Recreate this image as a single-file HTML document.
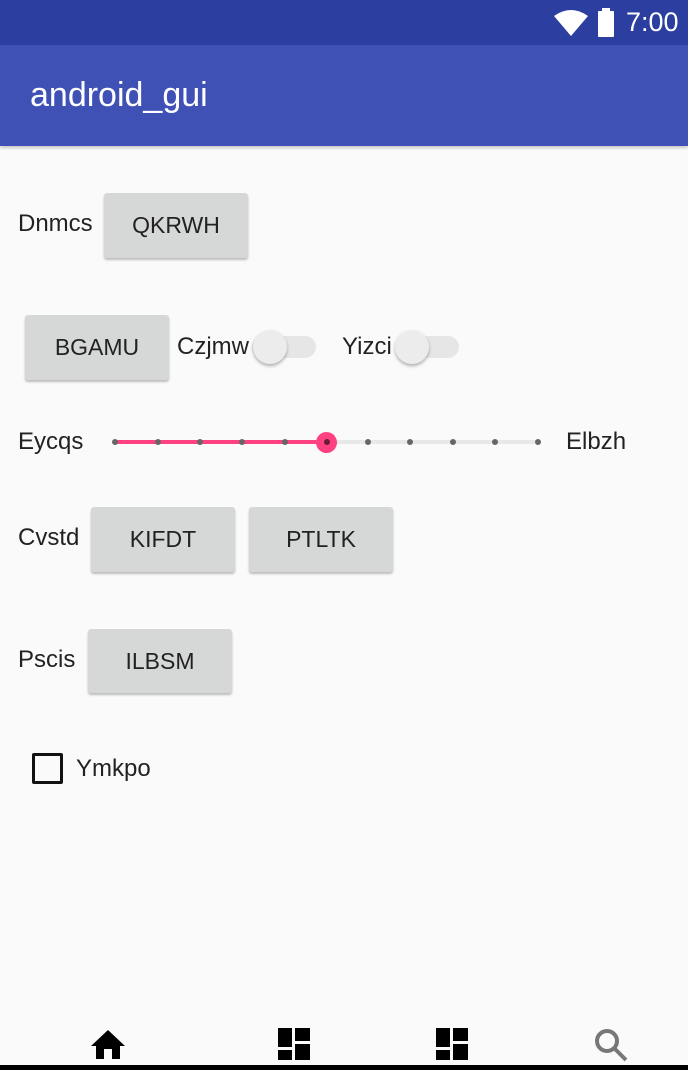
<html><head><style>
body{margin:0;width:688px;height:1070px;background:#fafafa;position:relative;overflow:hidden;font-family:"Liberation Sans",sans-serif;color:#222}
.a{position:absolute}
.t{position:absolute;font-size:24px;line-height:26px}
.b{position:absolute;background:#d6d7d7;border-radius:3px;box-shadow:0 2px 2px rgba(0,0,0,.25);font-size:23px;text-align:center;color:#222}
.tr{position:absolute;height:22px;border-radius:11px;background:#e6e6e6}
.th{position:absolute;width:34px;height:34px;border-radius:50%;background:#ececec;box-shadow:0 2px 3px rgba(0,0,0,.3)}
.dot{position:absolute;width:6px;height:6px;border-radius:50%;background:#666;top:439px}
</style></head><body>
<div class="a" style="left:0;top:0;width:688px;height:45px;background:#2c3e9f"></div>
<div class="a" style="left:0;top:45px;width:688px;height:101px;background:#3f51b5;box-shadow:0 2px 3px rgba(0,0,0,.2)"></div>
<svg class="a" style="left:552px;top:8px" width="70" height="30"><path d="M2 8 Q19 -4 36 8 L19 28 Z" fill="#fff"/><rect x="46" y="3" width="16" height="26" rx="1" fill="#fff"/><rect x="50" y="0" width="8" height="4" fill="#fff"/></svg>
<div class="a" style="left:626px;top:7px;color:#fff;font-size:27px">7:00</div>
<div class="a" style="left:30px;top:76px;color:#fff;font-size:34px">android_gui</div>

<div class="t" style="left:18px;top:211px">Dnmcs</div>
<div class="b" style="left:104px;top:193px;width:144px;height:65px;line-height:65px">QKRWH</div>

<div class="b" style="left:25px;top:315px;width:144px;height:65px;line-height:65px">BGAMU</div>
<div class="t" style="left:177px;top:334px">Czjmw</div>
<div class="tr" style="left:252px;top:336px;width:64px"></div>
<div class="th" style="left:253px;top:330px"></div>
<div class="t" style="left:342px;top:334px">Yizci</div>
<div class="tr" style="left:395px;top:336px;width:64px"></div>
<div class="th" style="left:395px;top:330px"></div>

<div class="t" style="left:18px;top:429px">Eycqs</div>
<div class="a" style="left:115px;top:440px;width:423px;height:4px;background:#e8e8e8"></div>
<div class="a" style="left:115px;top:440px;width:212px;height:4px;background:#ff4081"></div>
<div class="dot" style="left:112px"></div><div class="dot" style="left:155px"></div><div class="dot" style="left:197px"></div><div class="dot" style="left:239px"></div><div class="dot" style="left:282px"></div>
<div class="dot" style="left:365px"></div><div class="dot" style="left:407px"></div><div class="dot" style="left:450px"></div><div class="dot" style="left:492px"></div><div class="dot" style="left:535px"></div>
<div class="a" style="left:316px;top:432px;width:21px;height:21px;border-radius:50%;background:#ff4081"></div>
<div class="dot" style="left:324px;background:#6a1a35"></div>
<div class="t" style="left:566px;top:429px">Elbzh</div>

<div class="t" style="left:18px;top:525px">Cvstd</div>
<div class="b" style="left:91px;top:507px;width:144px;height:65px;line-height:65px">KIFDT</div>
<div class="b" style="left:249px;top:507px;width:144px;height:65px;line-height:65px">PTLTK</div>

<div class="t" style="left:18px;top:647px">Pscis</div>
<div class="b" style="left:88px;top:629px;width:144px;height:64px;line-height:64px">ILBSM</div>

<div class="a" style="left:32px;top:753px;width:25px;height:25px;border:3px solid #111;border-radius:2px"></div>
<div class="t" style="left:76px;top:756px">Ymkpo</div>

<svg class="a" style="left:90px;top:1028px" width="36" height="32"><path d="M18 2 L35 18 L30 18 L30 31 L22 31 L22 21 L14 21 L14 31 L6 31 L6 18 L1 18 Z" fill="#000"/></svg>
<svg class="a" style="left:278px;top:1028px" width="35" height="33"><rect x="0" y="0" width="14" height="19" fill="#000"/><rect x="17" y="0" width="15" height="13" fill="#000"/><rect x="0" y="22" width="14" height="10" fill="#000"/><rect x="17" y="16" width="15" height="16" fill="#000"/></svg>
<svg class="a" style="left:436px;top:1028px" width="35" height="33"><rect x="0" y="0" width="14" height="19" fill="#000"/><rect x="17" y="0" width="15" height="13" fill="#000"/><rect x="0" y="22" width="14" height="10" fill="#000"/><rect x="17" y="16" width="15" height="16" fill="#000"/></svg>
<svg class="a" style="left:594px;top:1028px" width="36" height="34"><circle cx="13" cy="13" r="10" stroke="#777" stroke-width="4" fill="none"/><path d="M20 20 L32 32" stroke="#777" stroke-width="4"/></svg>
<div class="a" style="left:0;top:1065px;width:688px;height:5px;background:#000"></div>
</body></html>
